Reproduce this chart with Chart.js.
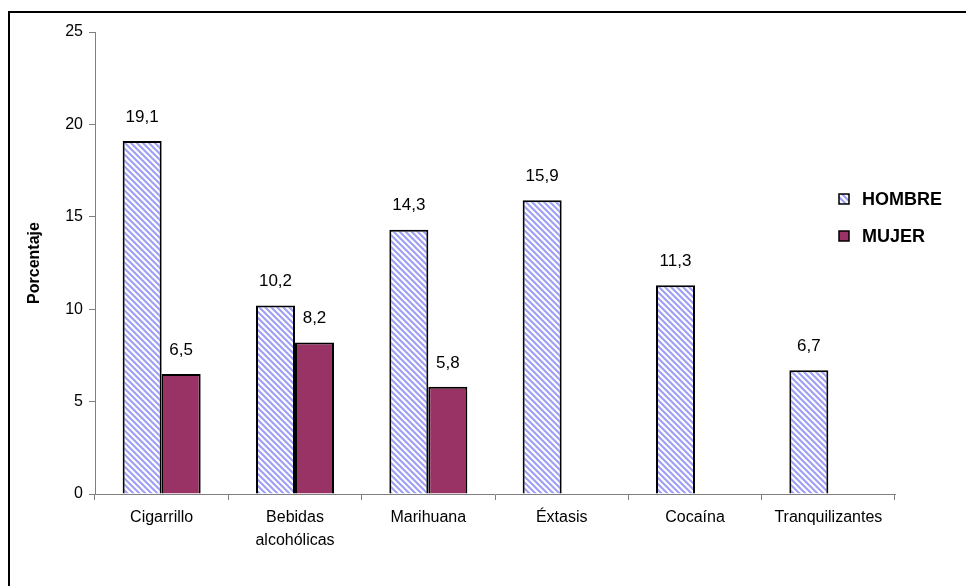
<!DOCTYPE html>
<html>
<head>
<meta charset="utf-8">
<script src="https://cdn.jsdelivr.net/npm/chart.js@4.4.1/dist/chart.umd.min.js"></script>
<style>
  html, body { margin: 0; padding: 0; background: #fff; }
</style>
</head>
<body>
<canvas id="graficoConsumo" width="966" height="586"></canvas>
<script>
const categorias = ['Cigarrillo', ['Bebidas', 'alcohólicas'], 'Marihuana', 'Éxtasis', 'Cocaína', 'Tranquilizantes'];
const hombre = [19.1, 10.2, 14.3, 15.9, 11.3, 6.7];
const mujer = [6.5, 8.2, 5.8, null, null, null];
const ticksY = [0, 5, 10, 15, 20, 25];

// relleno rayado diagonal para la serie HOMBRE
function rayado() {
  const c = document.createElement('canvas');
  c.width = 6; c.height = 6;
  const g = c.getContext('2d');
  g.fillStyle = '#ffffff';
  g.fillRect(0, 0, 6, 6);
  g.strokeStyle = '#9f9ff7';
  g.lineWidth = 2.1;
  g.beginPath();
  g.moveTo(-3, 3); g.lineTo(3, 9);
  g.moveTo(0, 0); g.lineTo(6, 6);
  g.moveTo(3, -3); g.lineTo(9, 3);
  g.stroke();
  return g.createPattern(c, 'repeat');
}

const ctx = document.getElementById('graficoConsumo');
const patron = rayado();

const marco = {
  id: 'marco',
  beforeDraw(chart) {
    const c = chart.ctx;
    c.save();
    c.fillStyle = '#fff';
    c.fillRect(0, 0, chart.width, chart.height);
    c.strokeStyle = '#000';
    c.lineWidth = 2;
    c.strokeRect(9, 12, chart.width + 10, chart.height + 10);
    c.restore();
  }
};

const etiquetas = {
  id: 'etiquetas',
  afterDatasetsDraw(chart) {
    const c = chart.ctx;
    c.save();
    c.fillStyle = '#000';
    c.font = '17px Arial, "Liberation Sans", sans-serif';
    c.textAlign = 'center';
    c.textBaseline = 'middle';
    chart.data.datasets.forEach((ds, i) => {
      chart.getDatasetMeta(i).data.forEach((bar, j) => {
        const v = ds.data[j];
        if (v === null) return;
        c.fillText(v.toFixed(1).replace('.', ','), bar.x, bar.y - 24);
      });
    });
    c.restore();
  }
};

const leyenda = {
  id: 'leyenda',
  afterDraw(chart) {
    const c = chart.ctx;
    c.save();
    c.font = 'bold 18px Arial, "Liberation Sans", sans-serif';
    c.textBaseline = 'middle';
    chart.data.datasets.forEach((ds, i) => {
      const y = 199 + i * 37;
      c.fillStyle = ds.backgroundColor;
      c.fillRect(839, y - 5, 10, 10);
      c.strokeStyle = '#000';
      c.lineWidth = 1.5;
      c.strokeRect(839, y - 5, 10, 10);
      c.fillStyle = '#000';
      c.fillText(ds.label, 862, y + 1);
    });
    c.restore();
  }
};

new Chart(ctx, {
  type: 'bar',
  data: {
    labels: categorias,
    datasets: [{
      label: 'HOMBRE',
      data: hombre,
      backgroundColor: patron,
      borderColor: '#000',
      borderWidth: 2
    },
    {
      label: 'MUJER',
      data: mujer,
      backgroundColor: '#993366',
      borderColor: '#000',
      borderWidth: 2
    }]
  },
  options: {
    responsive: false,
    animation: false,
    categoryPercentage: 0.585,
    barPercentage: 1,
    layout: { padding: { left: 0, top: 32, right: 71, bottom: 0 } },
    plugins: {
      legend: { display: false },
      tooltip: { enabled: false }
    },
    scales: {
      x: {
        afterFit: s => { s.height = 92; },
        grid: { drawOnChartArea: false, tickLength: 6, color: '#808080' },
        border: { color: '#808080', width: 1 },
        ticks: {
          color: '#000',
          padding: 6,
          maxRotation: 0,
          font: { family: 'Arial, "Liberation Sans", sans-serif', size: 16, lineHeight: 1.45 }
        }
      },
      y: {
        min: ticksY[0],
        max: ticksY[ticksY.length - 1],
        afterFit: s => { s.width = 95; },
        afterBuildTicks: s => { s.ticks = ticksY.map(v => ({ value: v })); },
        grid: { drawOnChartArea: false, tickLength: 6, color: '#808080' },
        border: { color: '#808080', width: 1 },
        ticks: {
          color: '#000',
          padding: 6,
          font: { family: 'Arial, "Liberation Sans", sans-serif', size: 16 }
        },
        title: {
          display: true,
          text: 'Porcentaje',
          color: '#000',
          padding: { top: 25, bottom: 0 },
          font: { family: 'Arial, "Liberation Sans", sans-serif', size: 16, weight: 'bold' }
        }
      }
    }
  },
  plugins: [marco, etiquetas, leyenda]
});
</script>
</body>
</html>
